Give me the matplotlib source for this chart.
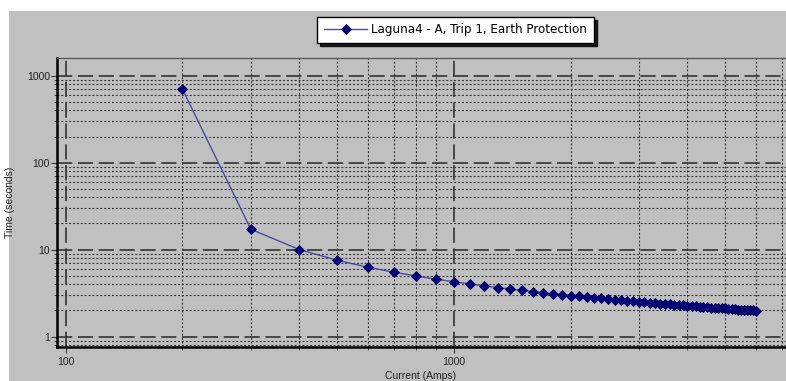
import matplotlib
matplotlib.use("Agg")
import matplotlib.pyplot as plt
from matplotlib import font_manager
from matplotlib.patches import Rectangle
from matplotlib.ticker import FixedLocator, NullFormatter, LogLocator

# operating curve: current (A) vs trip time (s)
current = [200, 300, 400, 500, 600, 700, 800, 900, 1000, 1100, 1200, 1300, 1400,
           1500, 1600, 1700, 1800, 1900, 2000, 2100, 2200, 2300, 2400, 2500, 2600,
           2700, 2800, 2900, 3000, 3100, 3200, 3300, 3400, 3500, 3600, 3700, 3800,
           3900, 4000, 4100, 4200, 4300, 4400, 4500, 4600, 4700, 4800, 4900, 5000,
           5100, 5200, 5300, 5400, 5500, 5600, 5700, 5800, 5900, 6000]
time_s = [700, 17.19, 10.03, 7.57, 6.30, 5.52, 4.98, 4.58, 4.28, 4.04, 3.84, 3.67,
          3.53, 3.40, 3.30, 3.20, 3.12, 3.04, 2.97, 2.91, 2.85, 2.80, 2.75, 2.70,
          2.66, 2.62, 2.58, 2.55, 2.52, 2.48, 2.46, 2.43, 2.40, 2.38, 2.35, 2.33,
          2.31, 2.29, 2.27, 2.25, 2.23, 2.21, 2.20, 2.18, 2.16, 2.15, 2.13, 2.12,
          2.11, 2.09, 2.08, 2.07, 2.05, 2.04, 2.03, 2.02, 2.01, 2.00, 1.99]
series_label = "Laguna4 - A, Trip 1, Earth Protection"
x_ticks = [100, 1000]
y_ticks = [1, 10, 100, 1000]

W, H = 786, 381
bg = "#c0c0c0"
plt.rcParams['font.family'] = ['Liberation Sans', 'DejaVu Sans']
plt.rcParams['lines.scale_dashes'] = False

# narrow font for the legend if one is around
fonts = font_manager.fontManager.ttflist
if any(f.name == "Liberation Sans Narrow" for f in fonts):
    leg_prop = {"family": "Liberation Sans Narrow", "size": 10.5}
elif any(f.name == "DejaVu Sans" and f.stretch == "condensed" for f in fonts):
    leg_prop = {"family": "DejaVu Sans", "stretch": "condensed", "size": 9.5}
else:
    leg_prop = {"family": "Liberation Sans", "size": 9.6}

fig = plt.figure(figsize=(W / 100, H / 100), dpi=100)
fig.patch.set_facecolor("white")
fig.patches.append(Rectangle((9 / W, 0), 1, 1 - 11 / H, transform=fig.transFigure,
                             facecolor=bg, edgecolor="none", zorder=-10))

ax = fig.add_axes([57 / W, 1 - 347 / H, (W - 57) / W, (347 - 58) / H])
ax.set_facecolor(bg)
ax.set_xscale("log")
ax.set_yscale("log")
ax.set_xlim(95, 7180)
ax.set_ylim(0.76, 1600)

ax.plot(current, time_s, color="#4a4aa8", lw=1.0, marker="D", markersize=5.3,
        markerfacecolor="#000080", markeredgecolor="#000050", markeredgewidth=0.6,
        label=series_label, zorder=5)

ax.xaxis.set_major_locator(FixedLocator(x_ticks))
ax.yaxis.set_major_locator(FixedLocator(y_ticks))
ax.xaxis.set_minor_locator(LogLocator(base=10, subs=range(2, 10), numticks=20))
ax.yaxis.set_minor_locator(LogLocator(base=10, subs=range(2, 10), numticks=20))
ax.set_xticklabels([str(v) for v in x_ticks])
ax.set_yticklabels([str(v) for v in y_ticks])
ax.xaxis.set_minor_formatter(NullFormatter())
ax.yaxis.set_minor_formatter(NullFormatter())

ax.grid(which="major", color="#333333", lw=1.2, dashes=(11, 4))
ax.grid(which="minor", color="#333333", lw=0.8, dashes=(1.4, 1.4))
ax.set_axisbelow(True)

ax.tick_params(which="major", length=4, width=0.8, color="#333333",
               labelsize=7.5, labelcolor="#222222", pad=1)
ax.tick_params(which="minor", length=2.5, width=0.6, color="#333333")
ax.tick_params(axis="x", pad=3)

for s in ("left", "bottom"):
    ax.spines[s].set_linewidth(1.8)
    ax.spines[s].set_color("black")
ax.spines["top"].set_linewidth(0.9)
ax.spines["top"].set_color("#555555")
ax.spines["right"].set_visible(False)

ax.set_xlabel("Current (Amps)", fontsize=7.5, color="#222222")
ax.set_ylabel("Time (seconds)", fontsize=7.5, color="#222222")
ax.xaxis.set_label_coords((421 - 57) / (W - 57), -(371 - 347) / (347 - 58))
ax.yaxis.set_label_coords(-(57 - 15) / (W - 57), 0.5)

leg = fig.legend(loc="center", bbox_to_anchor=(455.5 / W, 1 - 30 / H),
                 fancybox=False, shadow={"color": "black", "alpha": 0.85},
                 framealpha=1, edgecolor="black", handlelength=3.3,
                 borderpad=0.5, handletextpad=0.3, prop=leg_prop)
leg.get_frame().set_linewidth(1.0)

fig.savefig("out.png", dpi=100, facecolor=fig.get_facecolor())
